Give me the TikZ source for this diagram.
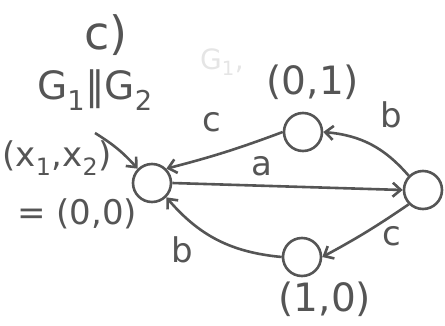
\documentclass[tikz,border=0pt]{standalone}
\usepackage{fontspec}
\setmainfont{DejaVu Sans}
\usetikzlibrary{arrows.meta}
\definecolor{pencil}{HTML}{555555}
\begin{document}
\begin{tikzpicture}[x=1pt,y=-1pt,
  state/.style={draw=pencil,line width=2.6pt,circle,minimum size=38pt,inner sep=0pt},
  edge/.style={draw=pencil,line width=2.6pt,-{Straight Barb[length=8pt,width=14pt]}},
  lbl/.style={text=pencil,font=\fontsize{34}{34}\selectfont,inner sep=0pt},
  big/.style={text=pencil,font=\fontsize{34}{34}\selectfont,inner sep=0pt},
  bigger/.style={text=pencil,font=\fontsize{39}{39}\selectfont,inner sep=0pt}]
\useasboundingbox (0,0) rectangle (445,325);
\node[state] (s00) at (152,183) {};
\node[state] (s01) at (303,132) {};
\node[state] (s11) at (423,190) {};
\node[state] (s10) at (302,257) {};
\node[text=pencil,font=\fontsize{46}{46}\selectfont,inner sep=0pt] (title) at (106,35) {c)};
\node[bigger] (prod) at (95,90) {G\textsubscript{1}‖G\textsubscript{2}};
\node[text=black!10,font=\fontsize{28}{28}\selectfont,inner sep=0pt] (ghost) at (222,62) {G\textsubscript{1},};
\node[big] (x12) at (57,158) {(x\textsubscript{1},x\textsubscript{2})};
\node[big] (eq) at (77,214) {= (0,0)};
\node[bigger] (l01) at (313,82) {(0,1)};
\node[bigger] (l10) at (325,299) {(1,0)};
\coordinate (init) at (95,133);
\draw[edge] (init) to[bend left=8] (s00.north west);
\draw[edge] (s01.west) to[bend left=3] (s00.north east);
\draw[edge] (s11.north west) to[bend right=22] (s01.east);
\draw[edge] (s00.east) -- (s11.west);
\draw[edge] (s11.south west) to[bend left=3] (s10.east);
\draw[edge] (s10.west) to[bend left=22] (s00.south east);
\node[lbl] (lc1) at (212,122) {c};
\node[lbl] (lb1) at (391,115) {b};
\node[lbl] (la) at (262,166) {a};
\node[lbl] (lc2) at (392,236) {c};
\node[lbl] (lb2) at (182,250) {b};
\end{tikzpicture}
\end{document}
